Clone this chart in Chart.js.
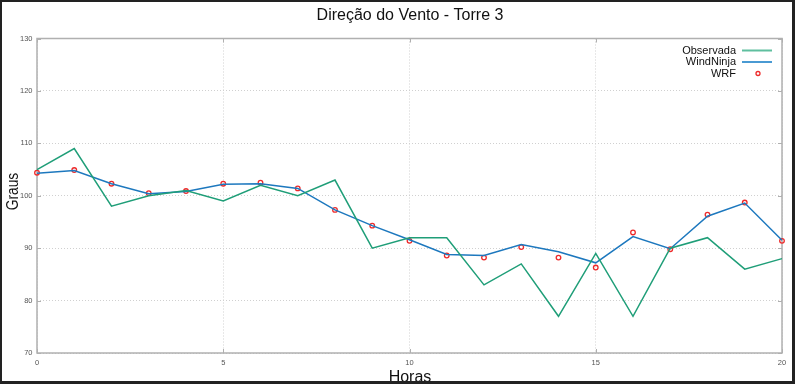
<!DOCTYPE html>
<html>
<head>
<meta charset="utf-8">
<script src="https://cdn.jsdelivr.net/npm/chart.js@4/dist/chart.umd.min.js"></script>
<style>
html,body{margin:0;padding:0;background:#fff;}
#wrap{width:795px;height:384px;position:relative;}
</style>
</head>
<body>
<div id="wrap"><canvas id="c" width="795" height="384"></canvas></div>
<script>
const hours = [0,1,2,3,4,5,6,7,8,9,10,11,12,13,14,15,16,17,18,19,20];
const observada = [105,109,98,100,101,99,102,100,103,90,92,92,83,87,77,89,77,90,92,86,88];
const windNinja = [104.3,104.8,102.3,100.4,100.8,102.2,102.3,101.4,97.3,94.3,91.6,88.8,88.6,90.7,89.3,87.2,92.2,89.9,96.1,98.6,91.5];
const wrf = [104.4,104.9,102.3,100.5,100.9,102.3,102.5,101.4,97.3,94.3,91.4,88.6,88.2,90.2,88.2,86.3,93.0,89.8,96.4,98.7,91.4];
const xTicks = [0,5,10,15,20];
const yTicks = [70,80,90,100,110,120,130];
const titleText = 'Direção do Vento - Torre 3';
const xTitle = 'Horas';
const yTitle = 'Graus';
const seriesNames = ['Observada','WindNinja','WRF'];

const cGreen = '#1f9e78';
const cBlue = '#1d78be';
const cRed = '#ee2a2a';

const pts = a => hours.map((h,i)=>({x:h,y:a[i]}));

const decor = {
  id:'decor',
  beforeDatasetsDraw(chart){
    const {ctx, chartArea:a, scales:{x,y}} = chart;
    ctx.save();
    ctx.strokeStyle = '#b0b0b0';
    ctx.lineWidth = 1;
    xTicks.forEach(v=>{
      const px = Math.round(x.getPixelForValue(v))+0.5;
      ctx.beginPath(); ctx.moveTo(px,a.top); ctx.lineTo(px,a.top+4); ctx.stroke();
      ctx.beginPath(); ctx.moveTo(px,a.bottom); ctx.lineTo(px,a.bottom-4); ctx.stroke();
    });
    yTicks.forEach(v=>{
      const py = Math.round(y.getPixelForValue(v))+0.5;
      ctx.beginPath(); ctx.moveTo(a.left,py); ctx.lineTo(a.left+4,py); ctx.stroke();
      ctx.beginPath(); ctx.moveTo(a.right,py); ctx.lineTo(a.right-4,py); ctx.stroke();
    });
    ctx.lineWidth = 1.5;
    ctx.strokeRect(a.left, a.top, a.right-a.left, a.bottom-a.top);
    ctx.restore();
  },
  afterDraw(chart){
    const {ctx} = chart;
    ctx.save();
    ctx.fillStyle = '#111';
    ctx.font = '16px "Liberation Sans", Arial, sans-serif';
    ctx.textAlign = 'center'; ctx.textBaseline = 'middle';
    ctx.fillText(titleText, 410, 16);
    ctx.textBaseline = 'alphabetic';
    ctx.fillText(xTitle, 410, 382);
    ctx.save();
    ctx.translate(18, 191.5); ctx.rotate(-Math.PI/2); ctx.scale(0.86, 1);
    ctx.fillText(yTitle, 0, 0);
    ctx.restore();
    // legend
    ctx.font = '11px "Liberation Sans", Arial, sans-serif';
    ctx.textAlign = 'right'; ctx.textBaseline = 'middle';
    const ly = [50.5, 62, 73.5];
    ctx.fillText(seriesNames[0], 736, ly[0]);
    ctx.fillText(seriesNames[1], 736, ly[1]);
    ctx.fillText(seriesNames[2], 736, ly[2]);
    ctx.lineWidth = 2;
    ctx.strokeStyle = '#5fbf9f';
    ctx.beginPath(); ctx.moveTo(742, ly[0]); ctx.lineTo(772, ly[0]); ctx.stroke();
    ctx.strokeStyle = '#4a9ad3';
    ctx.beginPath(); ctx.moveTo(742, ly[1]); ctx.lineTo(772, ly[1]); ctx.stroke();
    ctx.strokeStyle = cRed; ctx.lineWidth = 1.3;
    ctx.beginPath(); ctx.arc(758, ly[2], 2, 0, Math.PI*2); ctx.stroke();
    // outer frame
    ctx.fillStyle = '#222';
    ctx.fillRect(0,0,795,2);
    ctx.fillRect(0,0,2,384);
    ctx.fillRect(792,0,3,384);
    ctx.fillRect(0,381,795,3);
    ctx.restore();
  }
};

new Chart(document.getElementById('c'), {
  type:'line',
  data:{
    datasets:[
      {label:seriesNames[0], data:pts(observada), borderColor:cGreen, borderWidth:1.5, pointRadius:0, tension:0, fill:false},
      {label:seriesNames[1], data:pts(windNinja), borderColor:cBlue, borderWidth:1.5, pointRadius:0, tension:0, fill:false},
      {label:seriesNames[2], data:pts(wrf), showLine:false, borderColor:cRed, backgroundColor:'rgba(0,0,0,0)', pointRadius:2.3, pointBorderWidth:1.3, pointBorderColor:cRed}
    ]
  },
  options:{
    responsive:false, animation:false, clip:false,
    layout:{padding:{top:38.5, right:13, left:0, bottom:0}},
    plugins:{legend:{display:false}, title:{display:false}, tooltip:{enabled:false}},
    scales:{
      x:{type:'linear', min:0, max:20,
        afterBuildTicks(s){ s.ticks = xTicks.map(v=>({value:v})); },
        afterFit(s){ s.height = 31; },
        grid:{drawTicks:false, color:'#d0d0d0', lineWidth:1},
        border:{display:false, dash:[1,2]},
        ticks:{padding:5, color:'#555', font:{size:7.5, family:'"Liberation Sans", sans-serif'}, maxRotation:0, autoSkip:false}
      },
      y:{type:'linear', min:70, max:130,
        afterBuildTicks(s){ s.ticks = yTicks.map(v=>({value:v})); },
        afterFit(s){ s.width = 37; },
        grid:{drawTicks:false, color:'#d0d0d0', lineWidth:1},
        border:{display:false, dash:[1,2]},
        ticks:{padding:4.5, color:'#555', font:{size:7.5, family:'"Liberation Sans", sans-serif'}, autoSkip:false}
      }
    }
  },
  plugins:[decor]
});
</script>
</body>
</html>
